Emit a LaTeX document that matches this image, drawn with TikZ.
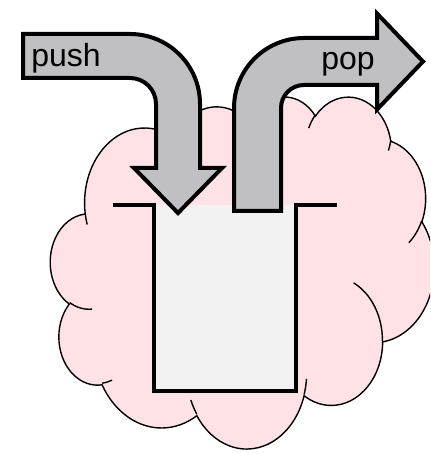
\documentclass[tikz,border=0pt]{standalone}
\usepackage{fontspec}
\setmainfont{Liberation Sans}

\definecolor{cloudpink}{RGB}{255,226,229}
\definecolor{arrowgray}{RGB}{192,191,193}
\definecolor{stackgray}{RGB}{242,242,242}

\tikzset{
    bigarrow/.style = {draw, line width=4pt, fill=arrowgray, line join=miter},
    cloudedge/.style = {draw, line width=1.4pt},
    stackwall/.style = {line width=4pt, line join=miter},
    oplabel/.style = {anchor=base, inner sep=0pt, font=\fontsize{32}{38}\selectfont}
}

\begin{document}
\begin{tikzpicture}[x=1pt, y=1pt]
    \useasboundingbox (0,0) rectangle (430,454);
    \clip (0,0) rectangle (430,454);

    % cloud, in units of 1/100 of the shape
    \begin{scope}[shift={(50.5,358.1)}, xscale=0.888, yscale=-0.8145]
        \path[fill=cloudpink, cloudedge] (39,143.7)
            arc[start angle=-187.75, end angle=-59.64, x radius=67.53pt, y radius=91.90pt]
            arc[start angle=-152.02, end angle=-45.45, x radius=53.33pt, y radius=72.67pt]
            arc[start angle=-153.50, end angle=-37.31, x radius=43.65pt, y radius=59.45pt]
            arc[start angle=-139.71, end angle=-10.21, x radius=48.57pt, y radius=65.95pt]
            arc[start angle=-74.77, end angle=23.21, x radius=53.33pt, y radius=72.73pt]
            arc[start angle=-37.52, end angle=81.86, x radius=67.75pt, y radius=92.20pt]
            arc[start angle=0.46, end angle=121.98, x radius=57.85pt, y radius=78.67pt]
            arc[start angle=16.84, end angle=146.22, x radius=67.52pt, y radius=92.15pt]
            arc[start angle=58.98, end angle=150.18, x radius=77.20pt, y radius=105.43pt]
            arc[start angle=83.31, end angle=223.10, x radius=43.60pt, y radius=59.18pt]
            arc[start angle=120.36, end angle=264.11, x radius=43.45pt, y radius=59.45pt]
            -- cycle;
        \draw[cloudedge]
            (46.93,261.77) arc[start angle=85.55, end angle=120.36, x radius=43.45pt, y radius=59.45pt]
            (69.28,348.99) arc[start angle=68.24, end angle=83.31, x radius=43.60pt, y radius=59.18pt]
            (164.78,390.90) arc[start angle=146.22, end angle=158.47, x radius=67.52pt, y radius=92.15pt]
            (288.27,347.51) arc[start angle=4.74, end angle=16.84, x radius=67.52pt, y radius=92.15pt]
            (341.29,229.54) arc[start angle=-64.03, end angle=0.46, x radius=57.85pt, y radius=78.67pt]
            (417.98,153.54) arc[start angle=23.21, end angle=49.64, x radius=53.33pt, y radius=72.73pt]
            (383.24,54.26) arc[start angle=10.21, end angle=21.88, x radius=48.57pt, y radius=65.95pt]
            (290.78,39.52) arc[start angle=-156.30, end angle=-139.71, x radius=48.57pt, y radius=65.95pt]
            (221.41,47.20) arc[start angle=-167.73, end angle=-153.50, x radius=43.65pt, y radius=59.45pt]
            (140.00,51.92) arc[start angle=-59.64, end angle=-45.73, x radius=67.53pt, y radius=91.90pt]
            (41.27,157.89) arc[start angle=163.20, end angle=172.25, x radius=67.53pt, y radius=91.90pt];
    \end{scope}

    % the stack
    \fill[stackgray] (155,64) rectangle (294,249);
    \draw[stackwall] (113,249) -- (154,249) -- (154,63) -- (296,63) -- (296,249) -- (337,249);

    % push and pop
    \draw[bigarrow] (23,420) -- (130,420) arc[start angle=90, end angle=0, radius=70pt]
        -- (200,286) -- (222,286) -- (178,241) -- (134,286) -- (156,286)
        -- (156,350) arc[start angle=0, end angle=90, radius=26pt] -- (23,376) -- cycle;
    \draw[bigarrow] (234,243) -- (234,346) arc[start angle=180, end angle=90, radius=70pt]
        -- (377,416) -- (377,440.5) -- (423,392.5) -- (377,344.5) -- (377,369)
        -- (304,369) arc[start angle=90, end angle=180, radius=23pt] -- (281,243) -- cycle;

    \node[oplabel] (push) at (66,387) {push};
    \node[oplabel] (pop) at (348,384) {pop};
\end{tikzpicture}
\end{document}
